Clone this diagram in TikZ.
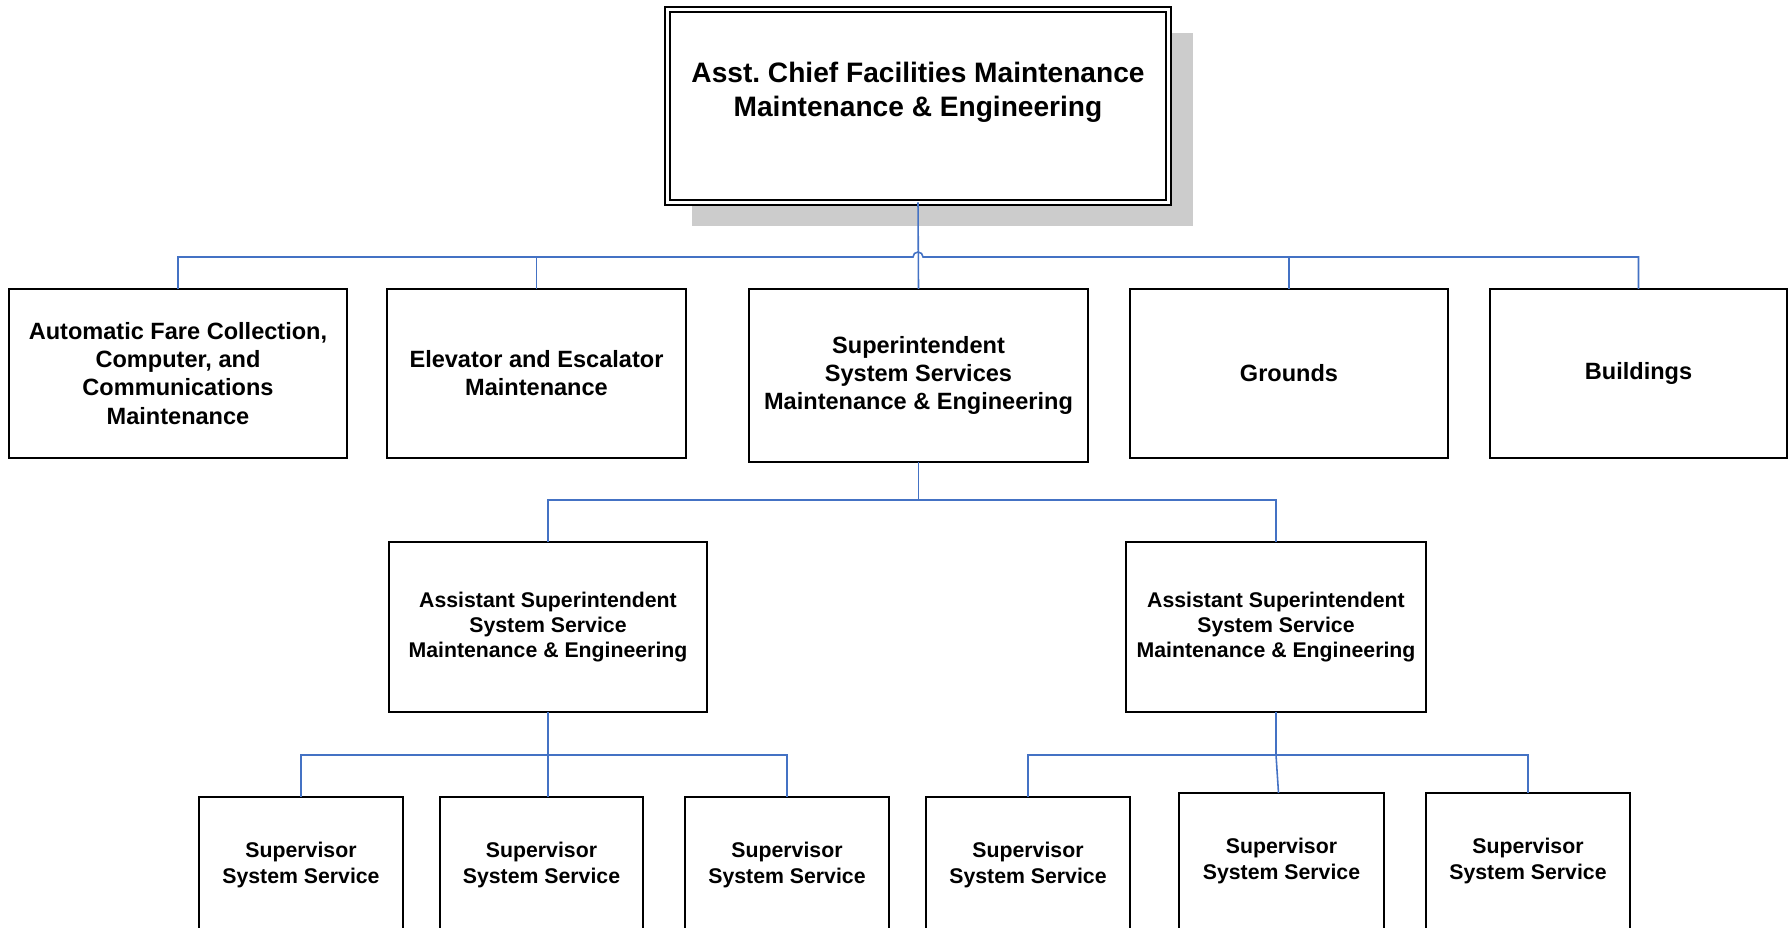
\documentclass[tikz,border=0pt]{standalone}
\usepackage{fontspec}
\setmainfont{Liberation Sans}
\usepackage{tikz}
\usetikzlibrary{positioning,shadows,calc}
\definecolor{linkblue}{RGB}{68,114,196}
\frenchspacing
\tikzset{
	chiefbox/.style={rectangle,draw=black,line width=0.5pt,double,double distance=1.1pt,fill=white,inner sep=0pt,outer sep=0pt,minimum width=5.01cm,minimum height=1.93cm,
		general shadow={fill=gray!40,shadow xshift=0.24cm,shadow yshift=-0.24cm}},
	deptbox/.style={rectangle,draw=black,line width=0.6pt,fill=white,inner sep=0pt,outer sep=0pt,minimum height=1.69cm,align=center,font=\bfseries\fontsize{6.7}{8}\selectfont},
	asstbox/.style={rectangle,draw=black,line width=0.6pt,fill=white,inner sep=0pt,outer sep=0pt,minimum width=3.18cm,minimum height=1.70cm,align=center,font=\bfseries\fontsize{6.05}{7.1}\selectfont},
	supbox/.style={rectangle,draw=black,line width=0.6pt,fill=white,inner sep=0pt,outer sep=0pt,minimum width=2.04cm,minimum height=1.36cm,align=center,font=\bfseries\fontsize{6.05}{7.4}\selectfont},
	link/.style={draw=linkblue,line width=0.45pt}
}

\begin{document}
\begin{tikzpicture}
	\useasboundingbox (0,0) rectangle (17.9,-9.28);
	% top of the chart
	\node (chief) [chiefbox,anchor=north west,label={[yshift=0.135cm,align=center,font=\bfseries\fontsize{8}{9.7}\selectfont]center:Asst. Chief Facilities Maintenance\\Maintenance \& Engineering}] at (6.675,-0.095) {};
	% first row
	\node (afc) [deptbox,minimum width=3.38cm,anchor=north west] at (0.09,-2.89) {Automatic Fare Collection,\\Computer, and\\Communications\\Maintenance};
	\node (elev) [deptbox,minimum width=2.99cm,right=0.40cm of afc.north east,anchor=north west] {Elevator and Escalator\\Maintenance};
	\node (super) [deptbox,minimum width=3.39cm,minimum height=1.73cm,right=0.63cm of elev.north east,anchor=north west] {Superintendent\\System Services\\Maintenance \& Engineering};
	\node (grnd) [deptbox,minimum width=3.18cm,right=0.42cm of super.north east,anchor=north west] {Grounds};
	\node (bldg) [deptbox,minimum width=2.97cm,right=0.42cm of grnd.north east,anchor=north west] {Buildings};
	% assistants
	\node (asstL) [asstbox,anchor=north west] at (3.89,-5.42) {Assistant Superintendent\\System Service\\Maintenance \& Engineering};
	\node (asstR) [asstbox,minimum width=3.00cm,anchor=north west] at (11.26,-5.42) {Assistant Superintendent\\System Service\\Maintenance \& Engineering};
	% supervisors
	\node (supA) [supbox,anchor=north west] at (1.99,-7.97) {Supervisor\\System Service};
	\node (supB) [supbox,minimum width=2.03cm,anchor=north west] at (4.40,-7.97) {Supervisor\\System Service};
	\node (supC) [supbox,anchor=north west] at (6.85,-7.97) {Supervisor\\System Service};
	\node (supD) [supbox,anchor=north west] at (9.26,-7.97) {Supervisor\\System Service};
	\node (supE) [supbox,minimum width=2.05cm,anchor=north west] at (11.79,-7.93) {Supervisor\\System Service};
	\node (supF) [supbox,anchor=north west] at (14.26,-7.93) {Supervisor\\System Service};
	% connectors
	\coordinate (bus1) at ($(chief.south)+(0,-0.545)$);
	\draw[link] (chief.south) -- (super.north);
	\draw[link] (afc.north) |- ([xshift=-0.05cm]bus1) arc (180:0:0.05cm) -| (bldg.north);
	\draw[link] (elev.north) -- (elev.north |- bus1);
	\draw[link] (grnd.north) -- (grnd.north |- bus1);
	\draw[link] (super.south) -- ++(0,-0.38) coordinate (bus2);
	\draw[link] (asstL.north) |- (bus2) -| (asstR.north);
	\draw[link] (asstL.south) -- ++(0,-0.43) coordinate (bus3);
	\draw[link] (supA.north) |- (bus3) -| (supC.north);
	\draw[link] (bus3) -- (bus3 |- supB.north);
	\draw[link] (asstR.south) -- ++(0,-0.43) coordinate (bus4);
	\draw[link] (supD.north) |- (bus4) -| (supF.north);
	\draw[link] (bus4) -- ([xshift=-0.03cm]supE.north);
\end{tikzpicture}
\end{document}
